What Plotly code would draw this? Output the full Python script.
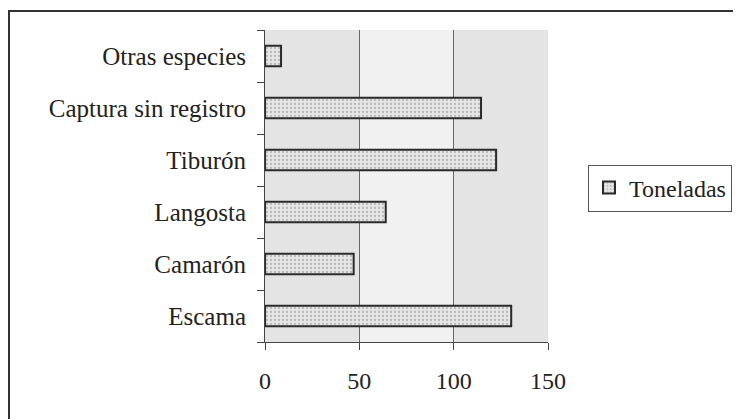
import plotly.graph_objects as go

categories = ["Escama", "Camarón", "Langosta", "Tiburón", "Captura sin registro", "Otras especies"]
toneladas = [130.5, 47, 64, 122.5, 114.5, 8.5]
x_ticks = [0, 50, 100, 150]
series_name = "Toneladas"

FONT = "Liberation Serif"
OFF = 8  # default page body margin

W, H = 741 - OFF, 419 - OFF
# plot area in page pixels: x 265..548, y 30..342
L = 265 - OFF
R = W - (548 - OFF)
T = 30 - OFF
B = H - (342 - OFF)
pw, ph = W - L - R, H - T - B


def px(xp):
    return (xp - OFF - L) / pw


def py(yp):
    return (H - B - (yp - OFF)) / ph


fig = go.Figure()
fig.add_trace(go.Bar(
    y=categories, x=toneladas, orientation="h", name=series_name,
    marker=dict(
        color="#e6e6e6",
        line=dict(color="#2a2a2a", width=2),
        pattern=dict(shape=".", fgcolor="#8a8a8a", bgcolor="#e6e6e6", size=4, solidity=0.25),
    ),
    showlegend=True,
))

fig.update_layout(
    width=W, height=H,
    margin=dict(l=L, r=R, t=T, b=B, autoexpand=False),
    paper_bgcolor="white",
    plot_bgcolor="#e4e4e4",
    bargap=0.61,
    font=dict(family=FONT, size=25, color="#222"),
    xaxis=dict(
        range=[0, 150], tickvals=x_ticks, ticks="outside", ticklen=7,
        tickcolor="#444", showline=True, linecolor="#444", linewidth=1,
        showgrid=True, gridcolor="#666", gridwidth=1, zeroline=False,
        tickfont=dict(family=FONT, size=24, color="#222"),
        ticklabelstandoff=10,
    ),
    yaxis=dict(
        categoryorder="array", categoryarray=categories,
        ticks="outside", tickson="boundaries", ticklen=7, tickcolor="#444",
        showline=True, linecolor="#444", linewidth=1, showgrid=False,
        tickfont=dict(family=FONT, size=25, color="#222"),
        ticklabelstandoff=13,
    ),
    legend=dict(
        x=px(588), y=py(188), xanchor="left", yanchor="middle",
        bordercolor="#555", borderwidth=1, bgcolor="white",
        font=dict(family=FONT, size=24, color="#222"),
        itemwidth=30, tracegroupgap=0,
    ),
    shapes=[
        dict(type="rect", xref="x", yref="paper", x0=50, x1=100, y0=0, y1=1,
             fillcolor="#f1f1f1", line=dict(width=0), layer="below"),
        dict(type="rect", xref="paper", yref="paper",
             x0=px(9), x1=px(760), y0=py(440), y1=py(11),
             line=dict(color="#333", width=2), fillcolor="rgba(0,0,0,0)"),
    ],
)

fig.write_html("out.html")
